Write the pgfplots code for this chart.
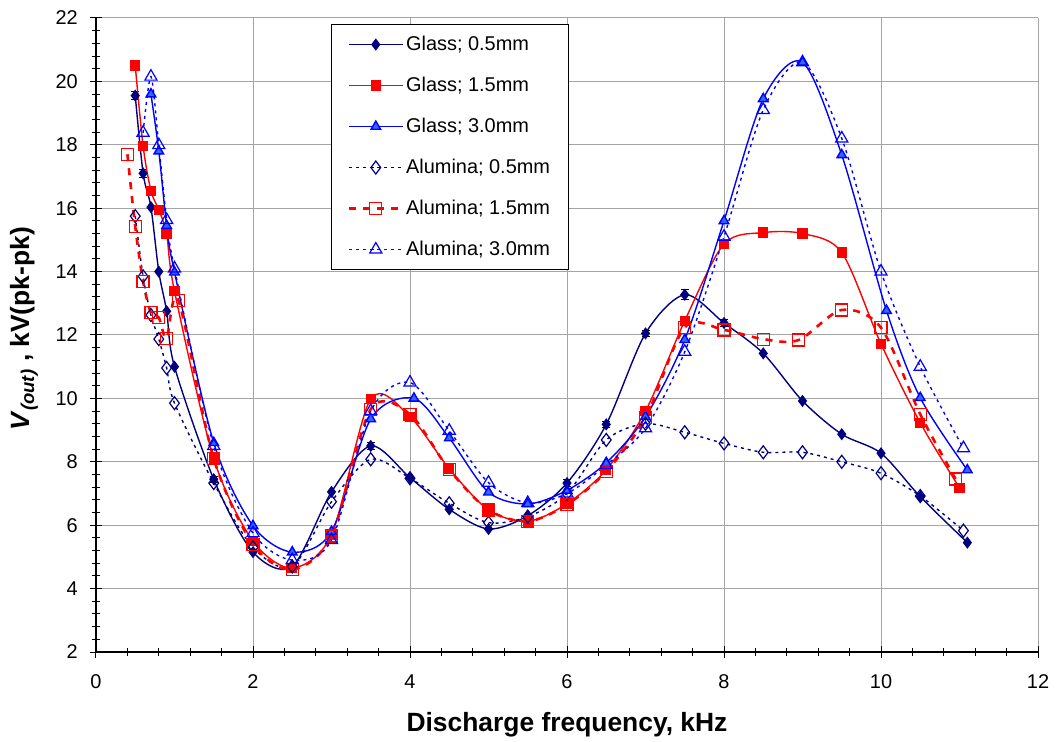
\documentclass[border=0pt]{standalone}
\usepackage{pgfplots}
\pgfplotsset{compat=1.18}
\usepackage{fontspec}
\setmainfont{Liberation Sans}
\definecolor{navy}{RGB}{0,0,128}
\definecolor{myred}{RGB}{255,0,0}
\definecolor{myblue}{RGB}{0,0,255}
\definecolor{lblue}{RGB}{51,102,255}
\definecolor{gridgray}{RGB}{165,165,165}

\pgfplotstableread{
x y
0.5 20.5
0.6 17.96
0.7 16.55
0.8 15.95
0.9 15.18
1.0 13.38
1.5 8.1
2.0 5.5
2.5 4.65
3.0 5.7
3.5 9.98
4.0 9.42
4.5 7.78
5.0 6.48
5.5 6.12
6.0 6.68
6.5 7.75
7.0 9.6
7.5 12.45
8.0 14.87
8.5 15.23
9.0 15.2
9.5 14.6
10.0 11.72
10.5 9.23
11.0 7.18
}\glassB

\pgfplotstableread{
x y
0.7 19.6
0.8 17.8
0.9 15.45
1.0 13.98
1.5 8.6
2.0 5.98
2.5 5.15
3.0 5.8
3.5 9.35
4.05 10.0
4.5 8.75
5.0 7.04
5.5 6.67
6.0 7.1
6.5 7.97
7.0 9.42
7.5 11.85
8.0 15.6
8.5 19.45
9.0 20.6
9.5 17.68
10.07 12.77
10.5 10.02
11.1 7.74
}\glassC

\pgfplotstableread{
x y
0.5 15.75
0.6 13.85
0.7 12.63
0.8 11.87
0.9 10.96
1.0 9.85
1.5 7.33
2.0 5.3
2.5 4.7
3.0 6.74
3.5 8.08
4.0 7.48
4.5 6.69
5.0 6.08
5.5 6.27
6.0 7.0
6.5 8.69
7.0 9.2
7.5 8.93
8.0 8.58
8.5 8.3
9.0 8.3
9.5 8.0
10.0 7.64
10.5 6.92
11.05 5.83
}\aluA

\pgfplotstableread{
x y
0.4 17.7
0.5 15.42
0.6 13.68
0.7 12.7
0.8 12.55
0.9 11.9
1.05 13.1
1.5 8.1
2.0 5.4
2.5 4.6
3.0 5.66
3.5 9.66
4.0 9.5
4.5 7.75
5.0 6.48
5.5 6.12
6.0 6.65
6.5 7.7
7.0 9.39
7.5 12.24
8.0 12.16
8.5 11.87
8.95 11.84
9.5 12.79
10.0 12.23
10.5 9.5
10.95 7.46
}\aluB

\pgfplotstableread{
x y
0.6 18.38
0.7 20.15
0.8 17.99
0.9 15.63
1.0 14.1
1.5 8.5
2.0 5.75
2.5 4.9
3.0 5.53
3.5 9.6
4.0 10.5
4.5 8.98
5.0 7.34
5.5 6.7
6.0 7.0
6.5 7.9
7.0 9.06
7.5 11.47
8.0 15.1
8.5 19.1
9.0 20.6
9.5 18.2
10.0 14.0
10.5 11.0
11.05 8.43
}\aluC

\begin{document}
\begin{tikzpicture}
\useasboundingbox (-96bp,-90bp) rectangle (963bp,652bp);
\begin{axis}[
  at={(0,0)}, anchor=south west,
  scale only axis, width=942bp, height=634bp,
  xmin=0, xmax=12, ymin=2, ymax=22,
  xtick={0,2,...,12}, ytick={2,4,...,22},
  minor x tick num=4, minor y tick num=4,
  grid=major, major grid style={gridgray, line width=1bp},
  axis x line*=bottom, axis y line*=left,
  axis line style={black, line width=1.3bp, -},
  tick style={black, line width=1bp},
  tick align=center, major tick length=12bp, minor tick length=8bp,
  /pgf/number format/assume math mode=true,
  ticklabel style={font=\fontsize{20}{24}\selectfont},
  xticklabel style={anchor=base, yshift=-30bp},
  yticklabel style={anchor=east, inner sep=0pt, xshift=-12bp},
  every axis x label/.style={at={(axis description cs:0.5,0)}, yshift=-79bp, anchor=base,
     font=\fontsize{26.5}{30}\selectfont\bfseries},
  every axis y label/.style={at={(axis description cs:0,0.51)}, xshift=-72bp, rotate=90, anchor=center,
     font=\fontsize{26.5}{30}\selectfont\bfseries},
  xlabel={Discharge frequency, kHz},
  ylabel={\textit{V}\textsubscript{\textit{(out)}} , kV(pk-pk)},
  legend cell align=left,
  legend style={at={(rel axis cs:0.2495,0.9905)}, anchor=north west, draw=black, line width=1bp,
     font=\fontsize{20}{24}\selectfont, inner xsep=16bp, inner ysep=8.5bp, row sep=18bp,
     nodes={inner sep=2bp, text height=15bp, text depth=4bp}},
  legend image code/.code={\draw[mark repeat=2, mark phase=2] plot coordinates {(0bp,0bp) (27bp,0bp) (54bp,0bp)};},
]
\addplot+[navy, line width=1.4bp, smooth, mark=diamond*, mark size=5bp,
   mark options={solid, fill=navy, draw=navy},
   error bars/.cd, y dir=both, y explicit, error bar style={black, line width=1bp}, error mark options={rotate=90, mark size=4bp, black, line width=1bp}]
   coordinates {(0.5,19.55) +- (0,0.12) (0.6,17.1) +- (0,0.12) (0.7,16.03) (0.8,14.0) (0.9,12.75) (1.0,11.0) (1.5,7.45) +- (0,0.1) (2.0,5.15) (2.5,4.7) (3.0,7.05) (3.5,8.5) +- (0,0.1) (4.0,7.5) (4.5,6.5) (5.0,5.88) (5.5,6.3) (6.0,7.33) +- (0,0.1) (6.5,9.18) +- (0,0.1) (7.0,12.05) +- (0,0.1) (7.5,13.27) +- (0,0.15) (8.0,12.38) +- (0,0.1) (8.5,11.42) (9.0,9.92) (9.5,8.87) (10.0,8.27) (10.5,6.9) (11.1,5.45)};
\addlegendentry{Glass; 0.5mm}
\addplot+[myred, line width=1.4bp, smooth, mark=square*, mark size=4.5bp,
   mark options={solid, fill=myred, draw=myred}] table {\glassB};
\addlegendentry{Glass; 1.5mm}
\addplot+[myblue, line width=1.4bp, smooth, mark=triangle*, mark size=5.5bp,
   mark options={solid, fill=lblue, draw=myblue}] table {\glassC};
\addlegendentry{Glass; 3.0mm}
\addplot+[navy, line width=1.4bp, smooth, dash pattern=on 3bp off 4bp, mark=diamond, mark size=6.5bp,
   mark options={solid, draw=navy, fill=none, line width=1.2bp}] table {\aluA};
\addlegendentry{Alumina; 0.5mm}
\addplot+[myred, line width=2.6bp, smooth, dash pattern=on 7bp off 7bp, mark=square, mark size=6bp,
   mark options={solid, draw=myred, fill=none, line width=1.2bp}] table {\aluB};
\addlegendentry{Alumina; 1.5mm}
\addplot+[myblue, line width=1.4bp, smooth, dash pattern=on 3bp off 4bp, mark=triangle, mark size=7bp,
   mark options={solid, draw=myblue, fill=none, line width=1.2bp}] table {\aluC};
\addlegendentry{Alumina; 3.0mm}
\end{axis}
\end{tikzpicture}
\end{document}
